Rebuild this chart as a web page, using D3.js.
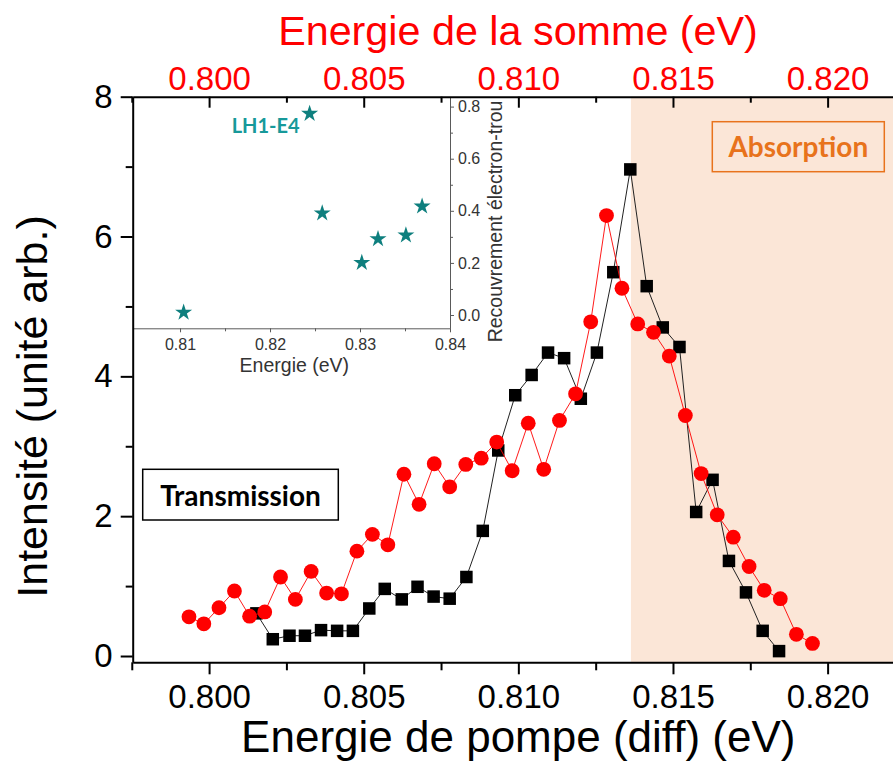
<!DOCTYPE html>
<html>
<head>
<meta charset="utf-8">
<script src="https://cdn.jsdelivr.net/npm/d3@7"></script>
<style>
  body { margin: 0; background: #fff; }
  svg { display: block; }
</style>
</head>
<body>
<svg id="chart" width="893" height="762"></svg>
<script>
// Pump (difference-frequency) energy, eV, and signal for the black (transmission) series
const blackEnergy = [0.80153, 0.80206, 0.80260, 0.80310, 0.80362, 0.80414, 0.80465, 0.80518, 0.80568, 0.80623,
  0.80674, 0.80726, 0.80778, 0.80832, 0.80885, 0.80935, 0.80990, 0.81043, 0.81096, 0.81148,
  0.81202, 0.81254, 0.81307, 0.81362, 0.81415, 0.81467, 0.81521, 0.81575, 0.81628, 0.81681,
  0.81736, 0.81790, 0.81843];
const blackIntensity = [0.61, 0.24, 0.29, 0.29, 0.37, 0.36, 0.36, 0.68, 0.96, 0.81,
  0.99, 0.85, 0.82, 1.13, 1.79, 2.94, 3.73, 4.02, 4.34, 4.26,
  3.68, 4.34, 5.49, 6.96, 5.29, 4.70, 4.42, 2.06, 2.52, 1.36,
  0.91, 0.36, 0.07];

// Red series (sum-frequency scan)
const redEnergy = [0.79935, 0.79983, 0.80032, 0.80082, 0.80131, 0.80180, 0.80231, 0.80279, 0.80330, 0.80380,
  0.80428, 0.80478, 0.80528, 0.80578, 0.80630, 0.80679, 0.80728, 0.80778, 0.80830, 0.80880,
  0.80930, 0.80980, 0.81032, 0.81082, 0.81133, 0.81185, 0.81234, 0.81285, 0.81335, 0.81386,
  0.81437, 0.81488, 0.81540, 0.81591, 0.81643, 0.81695, 0.81746, 0.81795, 0.81847, 0.81899,
  0.81951];
const redIntensity = [0.56, 0.46, 0.69, 0.93, 0.57, 0.63, 1.13, 0.81, 1.21, 0.90,
  0.89, 1.50, 1.74, 1.59, 2.60, 2.17, 2.75, 2.42, 2.74, 2.83,
  3.06, 2.65, 3.33, 2.67, 3.37, 3.75, 4.78, 6.30, 5.26, 4.75,
  4.63, 4.29, 3.44, 2.61, 2.02, 1.70, 1.28, 0.94, 0.82, 0.31,
  0.18];

// Inset: electron-hole overlap vs transition energy
const overlapEnergy = [0.8104, 0.8244, 0.8258, 0.8302, 0.8320, 0.8351, 0.8369];
const overlapValue = [0.01, 0.773, 0.391, 0.201, 0.292, 0.306, 0.417];

// Tick values and labels
const xMajorTicks = [0.800, 0.805, 0.810, 0.815, 0.820];
const xMinorTicks = [0.7975, 0.8025, 0.8075, 0.8125, 0.8175, 0.8225];
const yMajorTicks = [0, 2, 4, 6, 8];
const yMinorTicks = [1, 3, 5, 7];
const insetXTicks = [0.81, 0.82, 0.83, 0.84];
const insetXMinor = [0.815, 0.825, 0.835];
const insetYTicks = [0, 0.2, 0.4, 0.6, 0.8];
const insetYMinor = [0.1, 0.3, 0.5, 0.7];
const absorptionStart = 0.81364;

const svg = d3.select("#chart");
const SANS = "'Liberation Sans', Arial, sans-serif";
const BOLD = "Lato, 'Open Sans', sans-serif";

const plot = { left: 132.7, right: 904, top: 96.7, bottom: 662.3 };

const x = d3.scaleLinear().domain([0.79753, 0.82247]).range([plot.left, plot.right]);
const y = d3.scaleLinear().domain([-0.09, 8]).range([plot.bottom, plot.top]);

svg.append("defs").append("clipPath").attr("id", "plotClip")
  .append("rect")
  .attr("x", plot.left).attr("y", plot.top)
  .attr("width", plot.right - plot.left).attr("height", plot.bottom - plot.top);

// Absorption region shading
svg.append("rect")
  .attr("x", x(absorptionStart)).attr("y", plot.top)
  .attr("width", plot.right - x(absorptionStart))
  .attr("height", plot.bottom - plot.top)
  .attr("fill", "#fbe6d7");

// ---------- Inset ----------
const inset = { left: 132.7, right: 450, top: 96.7, bottom: 328.3 };
const ix = d3.scaleLinear().domain([0.80474, 0.84]).range([inset.left, inset.right]);
const iy = d3.scaleLinear().domain([-0.051, 0.838]).range([inset.bottom, inset.top]);
const insetColor = "#5a5a5a";
const insetText = "#333";

const gi = svg.append("g");
const ixAxis = gi.append("g").attr("transform", `translate(0,${inset.bottom})`)
  .call(d3.axisBottom(ix).tickValues(insetXTicks).tickFormat(d3.format(".2f"))
    .tickSizeInner(4).tickSizeOuter(0).tickPadding(6));
ixAxis.select(".domain").attr("stroke", insetColor);
ixAxis.selectAll(".tick line").attr("stroke", insetColor);
ixAxis.selectAll("text").attr("font-family", SANS).attr("font-size", 16).attr("fill", insetText);
gi.append("g").attr("transform", `translate(0,${inset.bottom})`)
  .call(d3.axisBottom(ix).tickValues(insetXMinor).tickFormat("").tickSizeInner(3).tickSizeOuter(0))
  .call(g => g.select(".domain").remove())
  .selectAll("line").attr("stroke", insetColor);

const iyAxis = gi.append("g").attr("transform", `translate(${inset.right},0)`)
  .call(d3.axisRight(iy).tickValues(insetYTicks).tickFormat(d3.format(".1f"))
    .tickSizeInner(4).tickSizeOuter(0).tickPadding(4));
iyAxis.select(".domain").attr("stroke", insetColor);
iyAxis.selectAll(".tick line").attr("stroke", insetColor);
iyAxis.selectAll("text").attr("font-family", SANS).attr("font-size", 16).attr("fill", insetText);
gi.append("g").attr("transform", `translate(${inset.right},0)`)
  .call(d3.axisRight(iy).tickValues(insetYMinor).tickFormat("").tickSizeInner(3).tickSizeOuter(0))
  .call(g => g.select(".domain").remove())
  .selectAll("line").attr("stroke", insetColor);

gi.append("text")
  .attr("x", (inset.left + inset.right) / 2 + 3).attr("y", 371.7)
  .attr("text-anchor", "middle")
  .attr("font-family", SANS).attr("font-size", 19.5).attr("fill", insetText)
  .text("Energie (eV)");

gi.append("text")
  .attr("transform", "translate(501.7,221.5) rotate(-90)")
  .attr("text-anchor", "middle")
  .attr("font-family", SANS).attr("font-size", 19.5).attr("fill", insetText)
  .text("Recouvrement électron-trou");

gi.selectAll("path.star")
  .data(overlapEnergy.map((e, i) => [e, overlapValue[i]]))
  .join("path")
  .attr("class", "star")
  .attr("transform", d => `translate(${ix(d[0])},${iy(d[1])})`)
  .attr("d", d3.symbol(d3.symbolStar, 90))
  .attr("fill", "#0e7f7e");

gi.append("text")
  .attr("x", 231.7).attr("y", 133.3)
  .attr("font-family", BOLD).attr("font-weight", 700).attr("font-size", 20)
  .attr("fill", "#17999a")
  .text("LH1-E4");

// ---------- Main data ----------
const gData = svg.append("g").attr("clip-path", "url(#plotClip)");
const line = d3.line().x(d => x(d[0])).y(d => y(d[1]));

const blackPts = blackEnergy.map((e, i) => [e, blackIntensity[i]]);
const redPts = redEnergy.map((e, i) => [e, redIntensity[i]]);

gData.append("path").datum(blackPts)
  .attr("d", line).attr("fill", "none").attr("stroke", "#222").attr("stroke-width", 1);
const sq = 12.5;
gData.selectAll("rect.sq").data(blackPts).join("rect")
  .attr("class", "sq")
  .attr("x", d => x(d[0]) - sq / 2).attr("y", d => y(d[1]) - sq / 2)
  .attr("width", sq).attr("height", sq)
  .attr("fill", "#000");

gData.append("path").datum(redPts)
  .attr("d", line).attr("fill", "none").attr("stroke", "#ff0000").attr("stroke-width", 0.9);
gData.selectAll("circle.dot").data(redPts).join("circle")
  .attr("class", "dot")
  .attr("cx", d => x(d[0])).attr("cy", d => y(d[1]))
  .attr("r", 7.4)
  .attr("fill", "#ff0000");

// ---------- Main axes ----------
function styleAxis(g) {
  g.select(".domain").attr("stroke", "#000").attr("stroke-width", 2);
  g.selectAll(".tick line").attr("stroke", "#000").attr("stroke-width", 2);
  g.selectAll("text").attr("font-family", SANS).attr("font-size", 33);
}

// bottom
const xb = svg.append("g").attr("transform", `translate(0,${plot.bottom})`)
  .call(d3.axisBottom(x).tickValues(xMajorTicks).tickFormat(d3.format(".3f"))
    .tickSizeInner(12).tickSizeOuter(0).tickPadding(10));
styleAxis(xb);
xb.selectAll("text").attr("fill", "#000");
const xbm = svg.append("g").attr("transform", `translate(0,${plot.bottom})`)
  .call(d3.axisBottom(x).tickValues(xMinorTicks).tickFormat("").tickSizeInner(8).tickSizeOuter(0));
xbm.select(".domain").remove();
xbm.selectAll("line").attr("stroke", "#000").attr("stroke-width", 2);

// top (same energy scale, labelled in red)
const xt = svg.append("g").attr("transform", `translate(0,${plot.top})`)
  .call(d3.axisTop(x).tickValues(xMajorTicks).tickFormat(d3.format(".3f"))
    .tickSizeInner(-11).tickSizeOuter(0).tickPadding(7));
styleAxis(xt);
xt.selectAll("text").attr("fill", "#ff0000");
const xtm = svg.append("g").attr("transform", `translate(0,${plot.top})`)
  .call(d3.axisTop(x).tickValues(xMinorTicks).tickFormat("").tickSizeInner(-6).tickSizeOuter(0));
xtm.select(".domain").remove();
xtm.selectAll("line").attr("stroke", "#000").attr("stroke-width", 2);

// left
const yl = svg.append("g").attr("transform", `translate(${plot.left},0)`)
  .call(d3.axisLeft(y).tickValues(yMajorTicks).tickFormat(d3.format("d"))
    .tickSizeInner(12).tickSizeOuter(0).tickPadding(8));
styleAxis(yl);
yl.selectAll("text").attr("fill", "#000");
const ylm = svg.append("g").attr("transform", `translate(${plot.left},0)`)
  .call(d3.axisLeft(y).tickValues(yMinorTicks).tickFormat("").tickSizeInner(7).tickSizeOuter(0));
ylm.select(".domain").remove();
ylm.selectAll("line").attr("stroke", "#000").attr("stroke-width", 2);

// ---------- Titles ----------
svg.append("text")
  .attr("x", 518.3).attr("y", 751.7).attr("text-anchor", "middle")
  .attr("font-family", SANS).attr("font-size", 44).attr("fill", "#000")
  .text("Energie de pompe (diff) (eV)");

svg.append("text")
  .attr("x", 518).attr("y", 45).attr("text-anchor", "middle")
  .attr("font-family", SANS).attr("font-size", 41.3).attr("fill", "#ff0000")
  .text("Energie de la somme (eV)");

svg.append("text")
  .attr("transform", "translate(47,406.5) rotate(-90)")
  .attr("text-anchor", "middle")
  .attr("font-family", SANS).attr("font-size", 43).attr("fill", "#000")
  .text("Intensité (unité arb.)");

// ---------- Annotation boxes ----------
svg.append("rect")
  .attr("x", 142.7).attr("y", 469.3).attr("width", 195.6).attr("height", 50.7)
  .attr("fill", "#fff").attr("stroke", "#000").attr("stroke-width", 1.5);
svg.append("text")
  .attr("x", 240.5).attr("y", 505.7).attr("text-anchor", "middle")
  .attr("font-family", BOLD).attr("font-weight", 700).attr("font-size", 28).attr("fill", "#000")
  .text("Transmission");

svg.append("rect")
  .attr("x", 712.3).attr("y", 121.7).attr("width", 172).attr("height", 50)
  .attr("fill", "none").attr("stroke", "#e8731c").attr("stroke-width", 1.5);
svg.append("text")
  .attr("x", 798.3).attr("y", 157.3).attr("text-anchor", "middle")
  .attr("font-family", BOLD).attr("font-weight", 700).attr("font-size", 28).attr("fill", "#e8731c")
  .text("Absorption");
</script>
</body>
</html>
